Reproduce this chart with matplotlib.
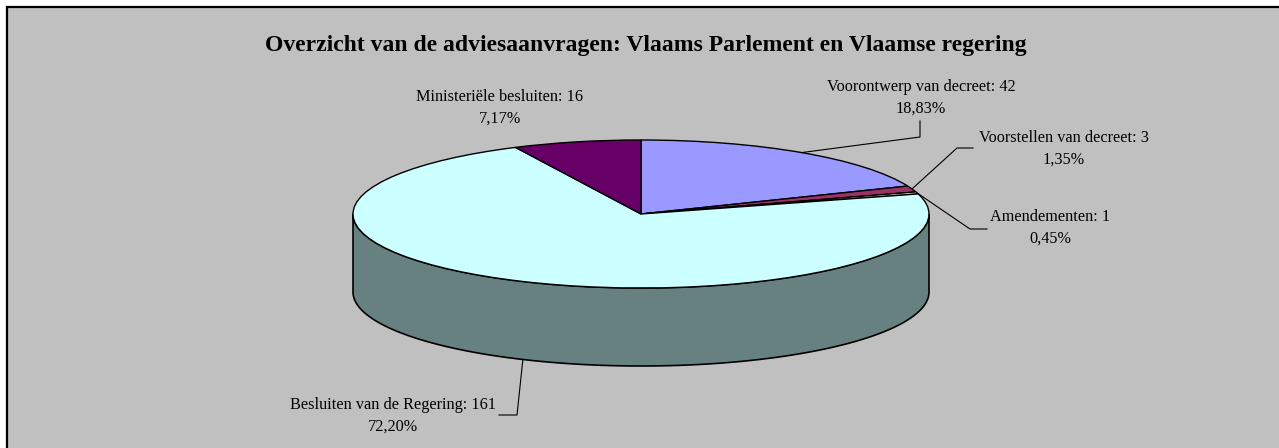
import numpy as np
import matplotlib.pyplot as plt
from matplotlib.patches import Polygon, Rectangle
from matplotlib.lines import Line2D

# data
labels = ['Voorontwerp van decreet', 'Voorstellen van decreet', 'Amendementen',
          'Besluiten van de Regering', 'Ministeriële besluiten']
counts = [42, 3, 1, 161, 16]
pct_text = ['18,83%', '1,35%', '0,45%', '72,20%', '7,17%']
colors = ['#9999FF', '#993366', '#FFFFCC', '#CCFFFF', '#660066']
side_color = '#678080'

W, H = 1279, 448
cx, cy = 641, 214      # pie centre in pixels
a, b = 288, 74         # ellipse semi axes
depth = 78

plt.rcParams['font.family'] = ['Liberation Serif', 'DejaVu Serif']

fig = plt.figure(figsize=(W / 100, H / 100), dpi=100)
fig.patch.set_facecolor('white')
fig.patches.append(Rectangle((7 / W, -0.1), 1.1, (H - 7) / H + 0.1,
                             transform=fig.transFigure, facecolor='#C0C0C0',
                             edgecolor='black', linewidth=1.6, zorder=-5))

ax = fig.add_axes([0, 0, 1, 1])
ax.patch.set_alpha(0)

# side of the cylinder (front half)
t = np.linspace(np.pi, 2 * np.pi, 200)
d = depth / b
side = np.concatenate([np.c_[np.cos(t), np.sin(t)],
                       np.c_[np.cos(t[::-1]), np.sin(t[::-1]) - d]])
ax.add_patch(Polygon(side, closed=True, facecolor=side_color,
                     edgecolor='black', linewidth=1.2, zorder=1))

wedges, _ = ax.pie(counts, colors=colors, startangle=90, counterclock=False,
                   radius=1, wedgeprops=dict(edgecolor='black', linewidth=1.0))
for w in wedges:
    w.set_zorder(2)

ax.set_aspect('auto')
ax.set_xlim(-cx / a, (W - cx) / a)
ax.set_ylim((cy - H) / b, cy / b)
ax.axis('off')


def px(x, y):
    return x / W, 1 - y / H


fig.text(*px(646, 45), 'Overzicht van de adviesaanvragen: Vlaams Parlement en Vlaamse regering',
         ha='center', va='center', fontsize=17, fontweight='bold')

# label positions (pixels): centre x, y of first line
label_pos = [(921, 87), (1064, 138), (1050, 217), (393, 405), (500, 97)]
# elbow points for leader lines
elbows = [[(920, 137), (920, 121)],
          [(957, 148), (973, 148)],
          [(970, 229), (987, 229)],
          [(517, 415), (499, 415)],
          None]

total = sum(counts)
ang = 90.0
for i, c in enumerate(counts):
    span = 360.0 * c / total
    mid = np.deg2rad(ang - span / 2)
    ang -= span
    x0, y0 = px(*label_pos[i])
    fig.text(x0, y0, f'{labels[i]}: {c}', ha='center', va='center', fontsize=11.7)
    fig.text(x0, y0 - 22 / H, pct_text[i], ha='center', va='center', fontsize=11.7)
    if elbows[i] is not None:
        sx = cx + a * np.cos(mid)
        sy = cy - b * np.sin(mid)
        if np.sin(mid) < 0:
            sy += depth
        pts = [(sx, sy)] + elbows[i]
        xs = [p[0] / W for p in pts]
        ys = [1 - p[1] / H for p in pts]
        fig.lines.append(Line2D(xs, ys, transform=fig.transFigure,
                                color='black', linewidth=0.8))

fig.savefig('out.png', dpi=100)
